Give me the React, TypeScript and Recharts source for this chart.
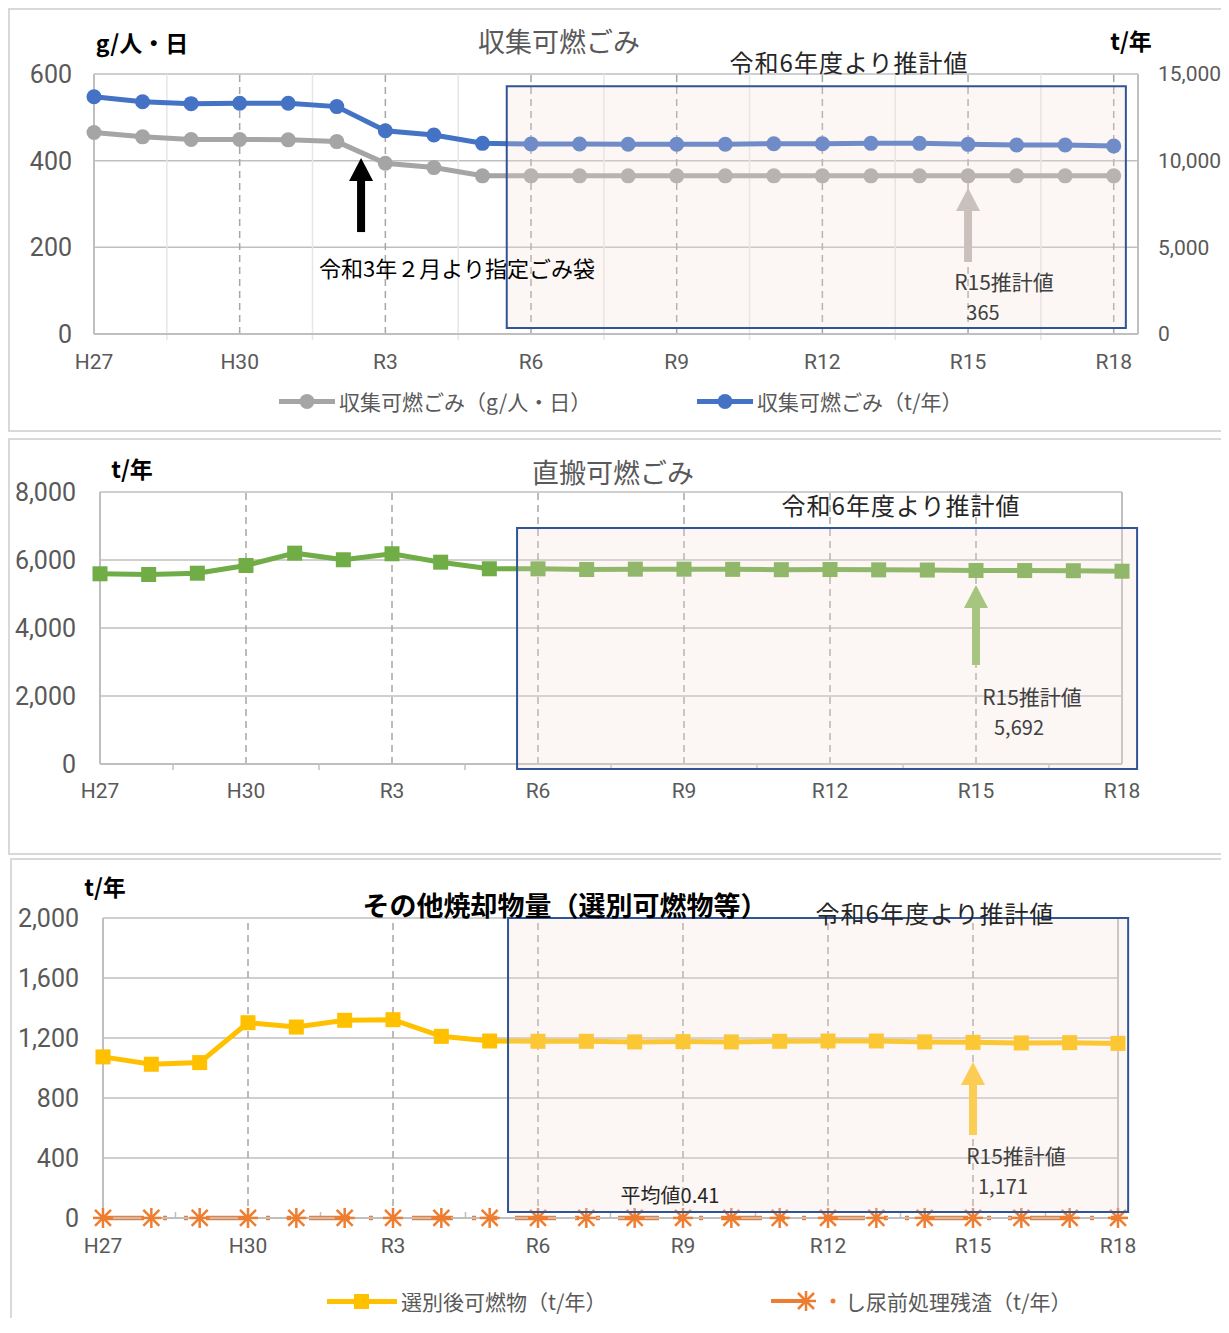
import React from 'react';
import {
  LineChart,
  Line,
  XAxis,
  YAxis,
  CartesianGrid,
  ReferenceLine,
  ReferenceArea,
  ReferenceDot,
} from 'recharts';

// categories H27..R18
const years = ['H27', 'H28', 'H29', 'H30', 'R1', 'R2', 'R3', 'R4', 'R5', 'R6', 'R7', 'R8', 'R9', 'R10', 'R11', 'R12', 'R13', 'R14', 'R15', 'R16', 'R17', 'R18'];
const majorTicks = [0, 3, 6, 9, 12, 15, 18, 21];
const minorTicks = [1.5, 4.5, 7.5, 10.5, 13.5, 16.5, 19.5];

// panel 1: 収集可燃ごみ
const collectedPerCapita = [465, 455, 449, 449, 448, 444, 394, 384, 365, 365, 365, 365, 365, 365, 365, 365, 365, 365, 365, 365, 365, 365];
const collectedTons = [13690, 13400, 13290, 13310, 13310, 13120, 11730, 11480, 11000, 10960, 10960, 10950, 10950, 10950, 10980, 10980, 11000, 11000, 10940, 10900, 10900, 10850];
const perCapitaTicks = [0, 200, 400, 600];
const tonTicks = [0, 5000, 10000, 15000];

// panel 2: 直搬可燃ごみ
const directTons = [5594, 5574, 5612, 5839, 6201, 6007, 6183, 5936, 5742, 5740, 5720, 5730, 5730, 5725, 5715, 5720, 5710, 5705, 5692, 5690, 5685, 5670];
const directTicks = [0, 2000, 4000, 6000, 8000];

// panel 3: その他焼却物量
const sortedTons = [1074, 1025, 1036, 1302, 1273, 1318, 1322, 1211, 1180, 1178, 1178, 1174, 1176, 1174, 1178, 1180, 1180, 1174, 1171, 1167, 1169, 1164];
const residueTons = [0.45, 0.4, 0.42, 0.4, 0.41, 0.43, 0.4, 0.39, 0.41, 0.41, 0.41, 0.41, 0.41, 0.41, 0.41, 0.41, 0.41, 0.41, 0.41, 0.41, 0.41, 0.41];
const otherTicks = [0, 400, 800, 1200, 1600, 2000];

const panel1Data = years.map((y, i) => ({ i, year: y, perCapita: collectedPerCapita[i], tons: collectedTons[i] }));
const panel2Data = years.map((y, i) => ({ i, year: y, tons: directTons[i] }));
const panel3Data = years.map((y, i) => ({ i, year: y, sorted: sortedTons[i], residue: residueTons[i] }));

const GRID = '#bfbfbf';
const DASH = '#a6a6a6';
const AXIS_TEXT = '#595959';
const NUM_FONT = 'Roboto, "Noto Sans CJK JP", sans-serif';
const JP_FONT = '"Noto Sans CJK JP", sans-serif';
const BOX_FILL = '#f3ddd2';
const BOX_STROKE = '#2f5597';

const fmt = (v: number) => v.toLocaleString('en-US');
const yearLabel = (v: number) => years[v] ?? '';

// page coords -> wrapper coords (body margin 8)
const pg = (v: number) => v - 8;

function Label({ x, y, size, color = '#000', bold = false, spacing = 0, children }: any) {
  return (
    <div
      style={{
        position: 'absolute',
        left: pg(x),
        top: pg(y),
        transform: 'translate(-50%, -50%)',
        fontSize: size,
        color,
        fontWeight: bold ? 700 : 400,
        letterSpacing: spacing,
        whiteSpace: 'nowrap',
        lineHeight: 1,
        fontFamily: JP_FONT,
      }}
    >
      {children}
    </div>
  );
}

const arrowShape = (color: string, len: number) => (props: any) => {
  const { cx, cy } = props;
  return (
    <g>
      <polygon points={`${cx},${cy} ${cx - 12},${cy + 23} ${cx + 12},${cy + 23}`} fill={color} />
      <rect x={cx - 4} y={cy + 21} width={8} height={len - 21} fill={color} />
    </g>
  );
};

const circleDot = (color: string) => (props: any) => (
  <circle key={`c-${props.index}`} cx={props.cx} cy={props.cy} r={7.5} fill={color} />
);

const squareDot = (color: string) => (props: any) => (
  <rect key={`s-${props.index}`} x={props.cx - 7.5} y={props.cy - 7.5} width={15} height={15} fill={color} />
);

const starDot = (props: any) => {
  const { cx, cy, index } = props;
  return (
    <g key={`st-${index}`} stroke="#ed7d31" strokeWidth={2.5}>
      <line x1={cx - 8} y1={cy - 8} x2={cx + 8} y2={cy + 8} />
      <line x1={cx - 8} y1={cy + 8} x2={cx + 8} y2={cy - 8} />
      <line x1={cx} y1={cy - 10} x2={cx} y2={cy + 10} />
      <line x1={cx - 10} y1={cy} x2={cx + 10} y2={cy} />
    </g>
  );
};

function Frame({ left, top, width, height, noBottom = false }: any) {
  return (
    <div
      style={{
        position: 'absolute',
        left: pg(left),
        top: pg(top),
        width,
        height,
        boxSizing: 'border-box',
        border: '2px solid #d9d9d9',
        borderBottom: noBottom ? 'none' : '2px solid #d9d9d9',
      }}
    />
  );
}

function LegendItem({ x, y, icon, text }: any) {
  return (
    <div
      style={{
        position: 'absolute',
        left: pg(x),
        top: pg(y),
        transform: 'translateY(-50%)',
        display: 'flex',
        alignItems: 'center',
        whiteSpace: 'nowrap',
        fontFamily: JP_FONT,
        fontSize: 21,
        color: AXIS_TEXT,
        lineHeight: 1,
      }}
    >
      {icon}
      <span style={{ marginLeft: 4 }}>{text}</span>
    </div>
  );
}

const xTick = { fill: AXIS_TEXT, fontSize: 21, fontFamily: NUM_FONT };
const yTick = { fill: AXIS_TEXT, fontSize: 25, fontFamily: NUM_FONT };

function Panel1() {
  return (
    <div style={{ position: 'absolute', left: 0, top: 0 }}>
      <LineChart width={1218} height={424} data={panel1Data} margin={{ top: 66, right: 8, bottom: 68, left: 30 }}>
        <CartesianGrid yAxisId="left" vertical={false} stroke={GRID} strokeWidth={1.5} />
        <XAxis
          type="number"
          dataKey="i"
          domain={[0, 21.5]}
          ticks={majorTicks}
          tickFormatter={yearLabel}
          height={30}
          tickLine={false}
          tickMargin={14}
          axisLine={{ stroke: GRID, strokeWidth: 2 }}
          tick={xTick}
        />
        <YAxis
          yAxisId="left"
          domain={[0, 600]}
          ticks={perCapitaTicks}
          width={56}
          tickLine={false}
          tickMargin={16}
          axisLine={{ stroke: GRID, strokeWidth: 2 }}
          tick={yTick}
        />
        <YAxis
          yAxisId="right"
          orientation="right"
          domain={[0, 15000]}
          ticks={tonTicks}
          tickFormatter={fmt}
          width={80}
          tickLine={false}
          tickMargin={14}
          axisLine={{ stroke: GRID, strokeWidth: 2 }}
          tick={{ ...yTick, fontSize: 21 }}
        />
        {minorTicks.map((t) => (
          <ReferenceLine
            key={`m${t}`}
            yAxisId="left"
            segment={[{ x: t, y: -14 }, { x: t, y: 600 }]}
            stroke="#e6e6e6"
            strokeWidth={1.5}
            ifOverflow="visible"
          />
        ))}
        {majorTicks.slice(1).map((t) => (
          <ReferenceLine key={`d${t}`} yAxisId="left" x={t} stroke={DASH} strokeDasharray="7 5" strokeWidth={1.5} />
        ))}
        <Line
          yAxisId="left"
          dataKey="perCapita"
          stroke="#a5a5a5"
          strokeWidth={5}
          dot={circleDot('#a5a5a5')}
          isAnimationActive={false}
        />
        <Line
          yAxisId="right"
          dataKey="tons"
          stroke="#4472c4"
          strokeWidth={5}
          dot={circleDot('#4472c4')}
          isAnimationActive={false}
        />
        <ReferenceArea
          yAxisId="left"
          x1={8.5}
          x2={21.25}
          y1={14}
          y2={572}
          fill={BOX_FILL}
          fillOpacity={0.25}
          stroke={BOX_STROKE}
          strokeWidth={2}
          strokeOpacity={1}
          ifOverflow="visible"
          zIndex={1000}
        />
        <ReferenceDot yAxisId="left" x={5.5} y={406} ifOverflow="visible" shape={arrowShape('#000000', 74)} />
        <ReferenceDot yAxisId="left" x={18} y={337} ifOverflow="visible" shape={arrowShape('#bdb8b4', 74)} />
      </LineChart>
    </div>
  );
}

function Panel2() {
  return (
    <div style={{ position: 'absolute', left: 0, top: pg(438) }}>
      <LineChart width={1218} height={417} data={panel2Data} margin={{ top: 54, right: 104, bottom: 61, left: 32 }}>
        <CartesianGrid vertical={false} stroke={GRID} strokeWidth={1.5} />
        <XAxis
          type="number"
          dataKey="i"
          domain={[0, 21]}
          ticks={majorTicks}
          tickFormatter={yearLabel}
          height={30}
          tickLine={false}
          tickMargin={13}
          axisLine={{ stroke: GRID, strokeWidth: 2 }}
          tick={xTick}
        />
        <YAxis
          domain={[0, 8000]}
          ticks={directTicks}
          tickFormatter={fmt}
          width={60}
          tickLine={false}
          tickMargin={18}
          axisLine={{ stroke: GRID, strokeWidth: 2 }}
          tick={yTick}
        />
        {minorTicks.map((t) => (
          <ReferenceLine
            key={`m${t}`}
            segment={[{ x: t, y: -180 }, { x: t, y: 0 }]}
            stroke={GRID}
            strokeWidth={1.5}
            ifOverflow="visible"
          />
        ))}
        {majorTicks.slice(1, -1).map((t) => (
          <ReferenceLine key={`d${t}`} x={t} stroke={DASH} strokeDasharray="7 5" strokeWidth={1.5} />
        ))}
        <ReferenceLine x={21} stroke={GRID} strokeWidth={2} />
        <Line
          dataKey="tons"
          stroke="#70ad47"
          strokeWidth={5}
          dot={squareDot('#70ad47')}
          isAnimationActive={false}
        />
        <ReferenceArea
          x1={8.57}
          x2={21.31}
          y1={-147}
          y2={6941}
          fill={BOX_FILL}
          fillOpacity={0.25}
          stroke={BOX_STROKE}
          strokeWidth={2}
          strokeOpacity={1}
          ifOverflow="visible"
          zIndex={1000}
        />
        <ReferenceDot x={18} y={5265} ifOverflow="visible" shape={arrowShape('#8cbf64', 80)} />
      </LineChart>
    </div>
  );
}

function Panel3() {
  return (
    <div style={{ position: 'absolute', left: pg(10), top: pg(858) }}>
      <LineChart width={1216} height={467} data={panel3Data} margin={{ top: 60, right: 108, bottom: 77, left: 33 }}>
        <CartesianGrid vertical={false} stroke={GRID} strokeWidth={1.5} />
        <XAxis
          type="number"
          dataKey="i"
          domain={[0, 21]}
          ticks={majorTicks}
          tickFormatter={yearLabel}
          height={30}
          tickLine={false}
          tickMargin={14}
          axisLine={{ stroke: GRID, strokeWidth: 2 }}
          tick={xTick}
        />
        <YAxis
          domain={[0, 2000]}
          ticks={otherTicks}
          tickFormatter={fmt}
          width={60}
          tickLine={false}
          tickMargin={18}
          axisLine={{ stroke: GRID, strokeWidth: 2 }}
          tick={yTick}
        />
        {minorTicks.map((t) => (
          <ReferenceLine
            key={`m${t}`}
            segment={[{ x: t, y: 0 }, { x: t, y: 40 }]}
            stroke={GRID}
            strokeWidth={1.5}
            ifOverflow="visible"
          />
        ))}
        {majorTicks.slice(0, -1).map((t) => (
          <ReferenceLine key={`d${t}`} x={t} stroke={DASH} strokeDasharray="7 5" strokeWidth={1.5} />
        ))}
        <ReferenceLine x={21} stroke={GRID} strokeWidth={2} />
        <Line
          dataKey="sorted"
          stroke="#ffc000"
          strokeWidth={5}
          dot={squareDot('#ffc000')}
          isAnimationActive={false}
        />
        <ReferenceArea
          x1={8.38}
          x2={21.21}
          y1={40}
          y2={2000}
          fill={BOX_FILL}
          fillOpacity={0.25}
          stroke={BOX_STROKE}
          strokeWidth={2}
          strokeOpacity={1}
          ifOverflow="visible"
          zIndex={1000}
        />
        <Line
          dataKey="residue"
          stroke="#ed7d31"
          strokeWidth={4.5}
          strokeDasharray="41 19 4 17 4 18"
          dot={starDot}
          isAnimationActive={false}
        />
        <ReferenceDot x={18} y={1040} ifOverflow="visible" shape={arrowShape('#ffc92a', 73)} />
      </LineChart>
    </div>
  );
}

export default function App() {
  return (
    <div style={{ position: 'relative', width: 1221, height: 1310, overflow: 'hidden', background: '#fff', fontFamily: JP_FONT }}>
      <style>{'html, body { overflow: hidden; }'}</style>
      <Frame left={8} top={8} width={1218} height={424} />
      <Frame left={8} top={438} width={1218} height={417} />
      <Frame left={10} top={858} width={1216} height={480} noBottom />

      <Panel1 />
      <Panel2 />
      <Panel3 />

      {/* panel 1 texts */}
      <Label x={142} y={42} size={23} bold>g/人・日</Label>
      <Label x={559} y={40} size={27} color={AXIS_TEXT}>収集可燃ごみ</Label>
      <Label x={1131} y={40} size={23} bold>t/年</Label>
      <Label x={849} y={62} size={24} color="#262626" spacing={1}>令和6年度より推計値</Label>
      <Label x={457} y={267} size={22}>令和3年２月より指定ごみ袋</Label>
      <Label x={1004} y={281} size={21} color="#404040">R15推計値</Label>
      <Label x={983} y={312} size={20} color="#404040">365</Label>
      <LegendItem
        x={279}
        y={401}
        text="収集可燃ごみ（g/人・日）"
        icon={
          <svg width={56} height={18}>
            <line x1={0} y1={9} x2={56} y2={9} stroke="#a5a5a5" strokeWidth={5} />
            <circle cx={28} cy={9} r={7.5} fill="#a5a5a5" />
          </svg>
        }
      />
      <LegendItem
        x={697}
        y={401}
        text="収集可燃ごみ（t/年）"
        icon={
          <svg width={56} height={18}>
            <line x1={0} y1={9} x2={56} y2={9} stroke="#4472c4" strokeWidth={5} />
            <circle cx={28} cy={9} r={7.5} fill="#4472c4" />
          </svg>
        }
      />

      {/* panel 2 texts */}
      <Label x={132} y={468} size={23} bold>t/年</Label>
      <Label x={613} y={471} size={27} color={AXIS_TEXT}>直搬可燃ごみ</Label>
      <Label x={901} y={505} size={24} color="#262626" spacing={1}>令和6年度より推計値</Label>
      <Label x={1032} y={696} size={21} color="#404040">R15推計値</Label>
      <Label x={1019} y={727} size={20} color="#404040">5,692</Label>

      {/* panel 3 texts */}
      <Label x={105} y={886} size={23} bold>t/年</Label>
      <Label x={565} y={904} size={27} bold>その他焼却物量（選別可燃物等）</Label>
      <Label x={935} y={913} size={24} color="#262626" spacing={1}>令和6年度より推計値</Label>
      <Label x={670} y={1195} size={20} color="#262626">平均値0.41</Label>
      <Label x={1016} y={1155} size={21} color="#404040">R15推計値</Label>
      <Label x={1003} y={1186} size={20} color="#404040">1,171</Label>
      <LegendItem
        x={327}
        y={1301}
        text="選別後可燃物（t/年）"
        icon={
          <svg width={70} height={18}>
            <line x1={0} y1={9} x2={70} y2={9} stroke="#ffc000" strokeWidth={5} />
            <rect x={27} y={1.5} width={15} height={15} fill="#ffc000" />
          </svg>
        }
      />
      <LegendItem
        x={771}
        y={1301}
        text="し尿前処理残渣（t/年）"
        icon={
          <svg width={70} height={22}>
            <line x1={0} y1={11} x2={34} y2={11} stroke="#ed7d31" strokeWidth={4} />
            <g stroke="#ed7d31" strokeWidth={2.5}>
              <line x1={27} y1={3} x2={43} y2={19} />
              <line x1={27} y1={19} x2={43} y2={3} />
              <line x1={35} y1={1} x2={35} y2={21} />
              <line x1={25} y1={11} x2={45} y2={11} />
            </g>
            <circle cx={62} cy={11} r={2.5} fill="#ed7d31" />
          </svg>
        }
      />
    </div>
  );
}
